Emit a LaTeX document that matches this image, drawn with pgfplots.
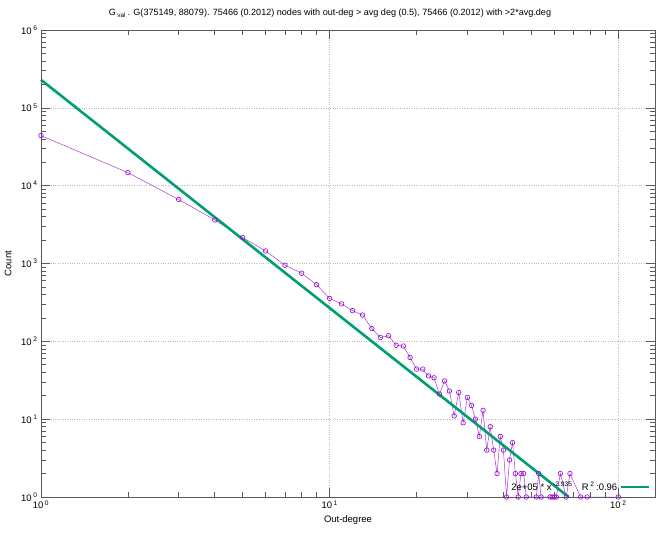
\documentclass[border=0pt]{standalone}
\usepackage{fontspec}
\setmainfont{Liberation Sans}
\usepackage{pgfplots}
\pgfplotsset{compat=1.18}
\definecolor{gpviolet}{RGB}{148,0,211}
\definecolor{gpgreen}{RGB}{0,158,115}
\definecolor{gpaxis}{RGB}{90,90,90}

\begin{document}
\begin{tikzpicture}[font=\fontsize{9.5}{11}\selectfont]
\begin{loglogaxis}[
    scale only axis,
    width=614bp, height=467bp,
    xmin=1, xmax=134, ymin=1, ymax=1e6,
    xtick={1,10,100},
    xticklabels={10\,\textsuperscript{0},10\,\textsuperscript{1},10\,\textsuperscript{2}},
    minor xtick={2,3,4,5,6,7,8,9,20,30,40,50,60,70,80,90},
    ytick={1,10,100,1000,10000,100000,1000000},
    yticklabels={10\,\textsuperscript{0},10\,\textsuperscript{1},10\,\textsuperscript{2},10\,\textsuperscript{3},10\,\textsuperscript{4},10\,\textsuperscript{5},10\,\textsuperscript{6}},
    minor ytick={2,3,4,5,6,7,8,9,20,30,40,50,60,70,80,90,
      200,300,400,500,600,700,800,900,2000,3000,4000,5000,6000,7000,8000,9000,
      20000,30000,40000,50000,60000,70000,80000,90000,
      200000,300000,400000,500000,600000,700000,800000,900000},
    grid=major,
    major grid style={gray!55, dotted, line width=0.6pt},
    axis line style={gpaxis, line width=0.8pt},
    tick style={gpaxis, line width=0.6pt},
    major tick length=9bp, minor tick length=5bp,
    tick align=inside, xtick pos=both, ytick pos=both,
    xlabel={Out-degree}, ylabel={Count},
    ylabel style={yshift=3bp},
    title={G\,\textsubscript{val}\,. G(375149, 88079). 75466 (0.2012) nodes with out-deg > avg deg (0.5), 75466 (0.2012) with >2*avg.deg},
    title style={xshift=-18bp, yshift=3bp, font=\fontsize{9.1}{10.5}\selectfont},
    clip=false,
    legend plot pos=right,
    legend cell align=right,
    legend style={draw=none, fill=none, at={(rel axis cs:1,0)}, anchor=south east,
      xshift=-5bp, yshift=3bp, inner sep=0pt, font=\fontsize{9.5}{11}\selectfont},
    legend image code/.code={\draw[#1] (0bp,0bp) -- (28bp,0bp);},
]
\addplot[gpviolet!80!white, line width=0.5pt, mark=o, mark size=2.3bp,
  mark options={gpviolet, line width=0.6pt}, forget plot] coordinates {
  (1,44000) (2,14700) (3,6630) (4,3630) (5,2150) (6,1450) (7,950) (8,750)
  (9,535) (10,356) (11,303) (12,248) (13,218) (14,146) (15,112) (16,118)
  (17,89) (18,87) (19,62) (20,44) (21,44) (22,36) (23,34) (24,21) (25,31)
  (26,23) (27,11) (28,22) (29,9) (30,19) (31,15) (32,10) (33,6) (34,13)
  (35,4) (36,8) (37,4) (38,2) (39,6) (40,4) (41,1) (42,3) (43,5) (44,2)
  (45,1) (46,2) (47,2) (48,1) (52,1) (53,2) (54,1) (58,1) (59,1) (60,1)
  (61,1) (63,2) (66,1) (68,2) (74,1) (78,1) (100,1)
};
\addplot[gpgreen, line width=2.6bp] coordinates {(1,229000) (67.3,1)};
\addlegendentry{2e+05 * x\,\textsuperscript{-2.935}\quad R\,\textsuperscript{2}\,:0.96\hspace{3bp}}
\end{loglogaxis}
\pgfresetboundingbox
\path[use as bounding box] (current axis.south west) ++(-41bp,-39bp) rectangle ([xshift=4bp,yshift=30bp]current axis.north east);
\end{tikzpicture}
\end{document}
